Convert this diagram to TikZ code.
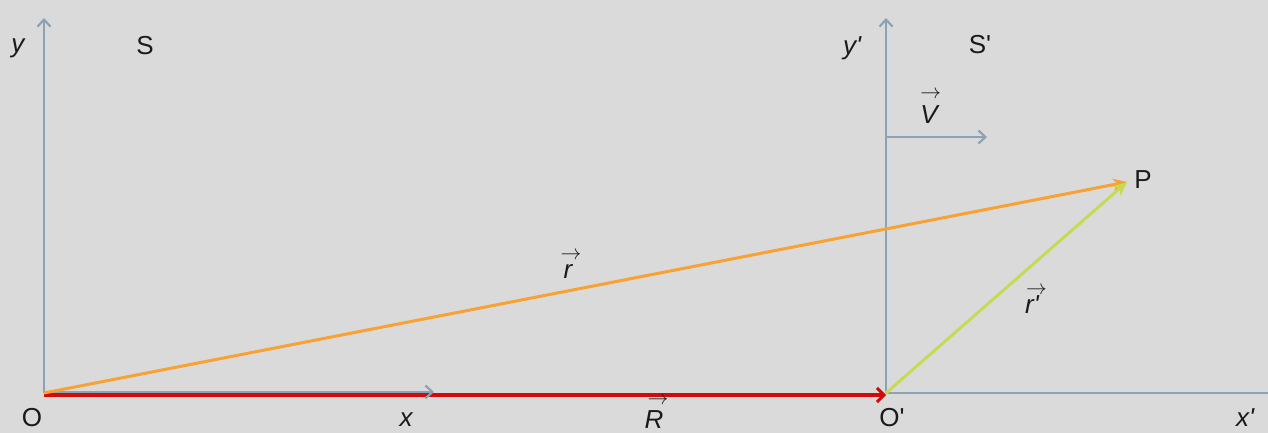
\documentclass[tikz,border=0pt]{standalone}
\usepackage{fontspec}
\setmainfont{Liberation Sans}[Ligatures=TeXOff]
\usetikzlibrary{arrows.meta}
\definecolor{bg}{HTML}{DADADA}
\definecolor{axis}{HTML}{8CA3B6}
\definecolor{rvec}{HTML}{F7A233}
\definecolor{rpvec}{HTML}{C6DA55}
\definecolor{Rvec}{HTML}{D40A0A}
\definecolor{txt}{HTML}{1A1A1A}
% #1: kern before arrow, #2: raise of arrow, #3: letter(s)
\newcommand{\vsf}[3]{\rlap{\kern#1\smash{\raisebox{#2}{\fontsize{22}{22}\selectfont$\rightarrow$}}}{\itshape #3}}
\begin{document}
\begin{tikzpicture}[x=1pt,y=-1pt,
  lbl/.style={font=\fontsize{26}{28}\selectfont, text=txt, inner sep=0pt},
  vlbl/.style={lbl, anchor=base},
  axisline/.style={draw=axis, line width=2.4pt},
  axisarrow/.style={axisline, -{Straight Barb[length=7pt,width=13pt,line width=2.2pt]}},
  bigR/.style={draw=Rvec, line width=4.5pt, -{Straight Barb[length=7pt,width=14pt,line width=3pt]}},
  smallr/.style={draw=rvec, line width=3pt, -{Stealth[length=14pt,width=12pt]}},
  primer/.style={draw=rpvec, line width=3pt, -{Stealth[length=14pt,width=12pt]}}]
\fill[bg] (0,0) rectangle (1268,433);
\useasboundingbox (0,0) rectangle (1268,433);
% points
\coordinate (O) at (44,393);
\coordinate (Ytop) at (44,18);
\coordinate (Xend) at (434,393);
\coordinate (Op) at (886,393);
\coordinate (Yptop) at (886,18);
\coordinate (Xpend) at (1268,393);
\coordinate (Vs) at (886,137);
\coordinate (Ve) at (987,137);
\coordinate (P) at (1127,182);
% axes
\draw[axisarrow] (O) -- (Ytop);
\draw[axisarrow] (Op) -- (Yptop);
\draw[axisline] (Op) -- (Xpend);
\draw[axisarrow] (Vs) -- (Ve);
% R vector
\draw[bigR] ([yshift=-2pt]O) -- ([yshift=-2pt]Op);
\draw[axisarrow] ([yshift=1pt]O) -- ([yshift=1pt]Xend);
% r and r'
\draw[smallr] (O) -- (P);
\draw[primer] (Op) -- (P);
% labels
\node[lbl] (ly) at (18,48) {\itshape y};
\node[lbl] (lS) at (145,46) {S};
\node[lbl] (lyp) at (852,48) {\itshape y'};
\node[lbl] (lSp) at (980,45) {S'};
\node[lbl] (lO) at (32,418) {O};
\node[lbl] (lx) at (406,420) {\itshape x};
\node[vlbl] (lR) at (654,428) {\vsf{3pt}{24pt}{R}};
\node[lbl] (lOp) at (892,418) {O'};
\node[lbl] (lxp) at (1245,418) {\itshape x'};
\node[vlbl] (lV) at (929,124) {\vsf{0pt}{25pt}{V}};
\node[lbl] (lP) at (1143,180) {P};
\node[vlbl] (lr) at (568,278) {\vsf{-3pt}{19pt}{r}};
\node[vlbl] (lrp) at (1032,313) {\vsf{1pt}{19pt}{r'}};
\end{tikzpicture}
\end{document}
